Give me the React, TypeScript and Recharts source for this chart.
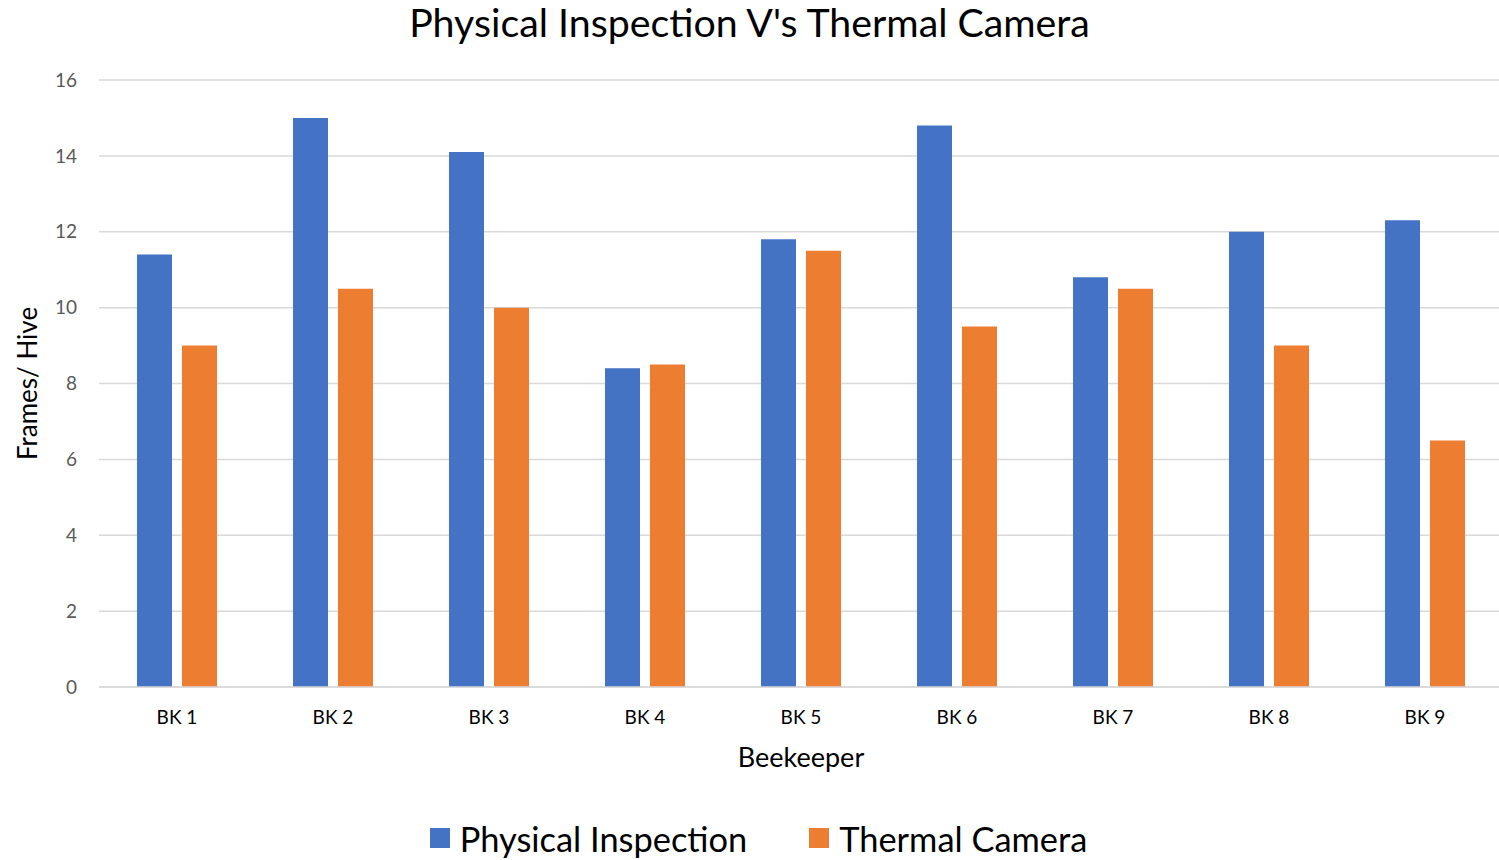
import React from 'react';
import { BarChart, Bar, XAxis, YAxis, CartesianGrid, Legend, Label } from 'recharts';

const categories = ['BK 1', 'BK 2', 'BK 3', 'BK 4', 'BK 5', 'BK 6', 'BK 7', 'BK 8', 'BK 9'];
const physicalInspection = [11.4, 15, 14.1, 8.4, 11.8, 14.8, 10.8, 12, 12.3];
const thermalCamera = [9, 10.5, 10, 8.5, 11.5, 9.5, 10.5, 9, 6.5];
const yTicks = [0, 2, 4, 6, 8, 10, 12, 14, 16];

const data = categories.map((c, i) => ({
  name: c,
  physical: physicalInspection[i],
  thermal: thermalCamera[i],
}));

const FONT = 'Lato, "Open Sans", sans-serif';

const LegendContent = (props: any) => {
  const { payload } = props;
  return (
    <div style={{ height: 44, display: 'flex', justifyContent: 'center', alignItems: 'center', fontFamily: FONT, paddingLeft: 14, boxSizing: 'border-box' }}>
      {(payload || []).map((p: any, i: number) => (
        <div key={i} style={{ display: 'flex', alignItems: 'center', marginRight: i === 0 ? 62 : 0 }}>
          <div style={{ width: 20, height: 20, background: p.color, marginRight: 10 }} />
          <span style={{ fontSize: 34.4, color: '#000' }}>{p.value}</span>
        </div>
      ))}
    </div>
  );
};

export default function App() {
  return (
    <div style={{ position: 'absolute', left: 0, top: 0, width: 1499, height: 860, background: '#fff' }}>
      <div style={{ position: 'absolute', top: 0, left: 0, width: 1499, height: 860, overflow: 'hidden' }}>
        <BarChart
          width={1503}
          height={860}
          data={data}
          margin={{ top: 80, right: 0, left: 0, bottom: 39 }}
          barSize={35}
          barGap={10}
        >
          <CartesianGrid vertical={false} stroke="#d9d9d9" strokeWidth={1.5} />
          <XAxis
            dataKey="name"
            height={90}
            axisLine={{ stroke: '#d9d9d9', strokeWidth: 1.5 }}
            tickLine={false}
            tickSize={0}
            tickMargin={24}
            tick={{ fill: '#000', fontSize: 19, fontFamily: FONT }}
          >
            <Label value="Beekeeper" position="insideBottom" offset={10} style={{ fill: '#000', fontSize: 27, fontFamily: FONT }} />
          </XAxis>
          <YAxis
            width={99}
            domain={[0, 16]}
            ticks={yTicks}
            axisLine={false}
            tickLine={false}
            tickSize={0}
            tickMargin={22}
            tick={{ fill: '#595959', fontSize: 19, fontFamily: FONT }}
          >
            <Label value="Frames/ Hive" angle={-90} position="center" dx={-22} style={{ fill: '#000', fontSize: 26, fontFamily: FONT, textAnchor: 'middle' }} />
          </YAxis>
          <Legend verticalAlign="bottom" content={<LegendContent />} wrapperStyle={{ bottom: 0 }} />
          <Bar dataKey="physical" name="Physical Inspection" fill="#4472C4" isAnimationActive={false} />
          <Bar dataKey="thermal" name="Thermal Camera" fill="#ED7D31" isAnimationActive={false} />
        </BarChart>
      </div>
      <div style={{ position: 'absolute', top: 0, left: 0, width: 1499, height: 46, textAlign: 'center', fontFamily: FONT, fontSize: 39.3, lineHeight: '44px', color: '#000' }}>
        Physical Inspection V's Thermal Camera
      </div>
    </div>
  );
}
